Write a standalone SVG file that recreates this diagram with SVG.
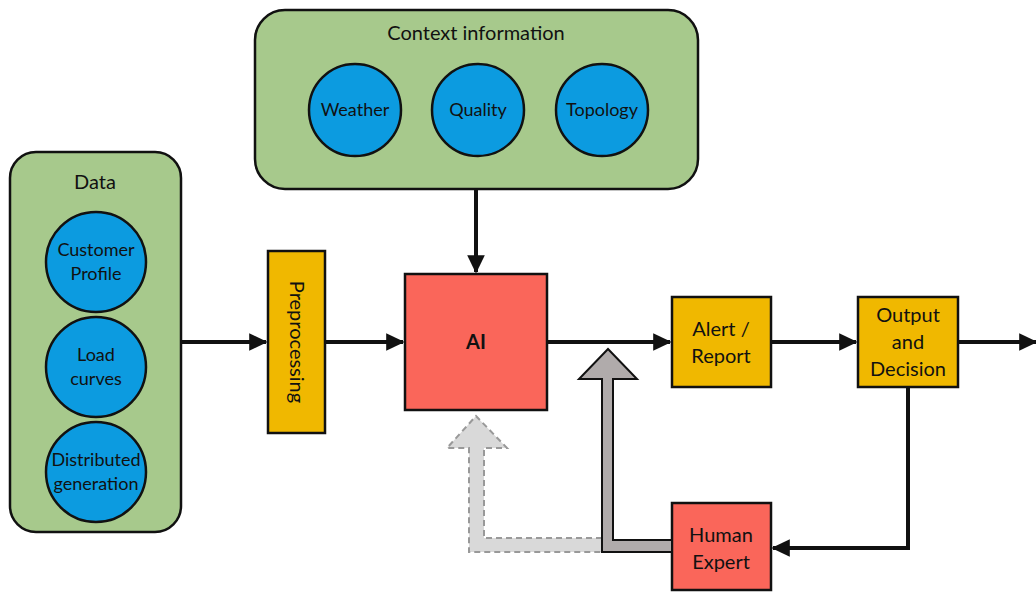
<svg xmlns="http://www.w3.org/2000/svg" width="1036" height="595" viewBox="0 0 1036 595">
<style>
.grp{fill:#a7c98c;stroke:#111;stroke-width:2.5}
.circ{fill:#0c9be0;stroke:#111;stroke-width:2.5}
.gold{fill:#f0b800;stroke:#111;stroke-width:2.5}
.red{fill:#fa665a;stroke:#111;stroke-width:2.5}
text{font-family:Lato,"Open Sans","Liberation Sans",sans-serif;font-size:20px;fill:#111;text-anchor:middle}
text.c{font-size:18px}
.ln{stroke:#111;stroke-width:4;fill:none}
</style>
<defs>
<marker id="ah" markerWidth="5" markerHeight="5" refX="4.2" refY="2.5" orient="auto" markerUnits="strokeWidth">
<path d="M0,0.3 L4.6,2.5 L0,4.7 Z" fill="#111"/>
</marker>
</defs>
<rect width="1036" height="595" fill="#fff"/>
<g id="data">
<rect class="grp" x="10" y="152" width="171" height="380" rx="26"/>
<text x="95" y="189">Data</text>
<circle class="circ" cx="96" cy="262" r="50"/>
<text class="c" x="96" y="256">Customer</text><text class="c" x="96" y="280">Profile</text>
<circle class="circ" cx="96" cy="367" r="50"/>
<text class="c" x="96" y="361">Load</text><text class="c" x="96" y="385">curves</text>
<circle class="circ" cx="96" cy="472" r="50"/>
<text class="c" x="96" y="466">Distributed</text><text class="c" x="96" y="490">generation</text>
</g>
<g id="context">
<rect class="grp" x="255" y="10" width="443" height="179" rx="30"/>
<text x="476" y="40">Context information</text>
<circle class="circ" cx="355" cy="110" r="46"/>
<text class="c" x="355" y="116">Weather</text>
<circle class="circ" cx="478" cy="110" r="46"/>
<text class="c" x="478" y="116">Quality</text>
<circle class="circ" cx="602" cy="110" r="46"/>
<text class="c" x="602" y="116">Topology</text>
</g>
<g id="preprocessing">
<rect class="gold" x="268" y="251" width="57" height="182"/>
<text transform="translate(290,342) rotate(90)" x="0" y="0">Preprocessing</text>
</g>
<g id="ai">
<rect class="red" x="405" y="274" width="142" height="136"/>
<text x="476" y="349" font-weight="bold">AI</text>
</g>
<g id="alert">
<rect class="gold" x="672" y="297" width="99" height="90"/>
<text x="721" y="336">Alert /</text><text x="721" y="363">Report</text>
</g>
<g id="output">
<rect class="gold" x="858" y="297" width="100" height="90"/>
<text x="908" y="322">Output</text><text x="908" y="349">and</text><text x="908" y="376">Decision</text>
</g>
<g id="human">
<rect class="red" x="672" y="503" width="99" height="87"/>
<text x="721" y="542">Human</text><text x="721" y="569">Expert</text>
</g>
<g id="connectors">
<line class="ln" x1="181" y1="342" x2="266" y2="342" marker-end="url(#ah)"/>
<line class="ln" x1="325" y1="342" x2="403" y2="342" marker-end="url(#ah)"/>
<line class="ln" x1="476" y1="189" x2="476" y2="272" marker-end="url(#ah)"/>
<line class="ln" x1="547" y1="342" x2="670" y2="342" marker-end="url(#ah)"/>
<line class="ln" x1="771" y1="342" x2="856" y2="342" marker-end="url(#ah)"/>
<line class="ln" x1="958" y1="342" x2="1036" y2="342" marker-end="url(#ah)"/>
<polyline class="ln" points="908,387 908,548 773,548" marker-end="url(#ah)"/>
<polygon points="602,538 484,538 484,448 507,448 476,416 447,448 469,448 469,552 602,552" fill="#d9d9d9" stroke="#999" stroke-width="2" stroke-dasharray="6,4"/>
<polygon points="672,540 613,540 613,379 637,379 608,349 579,379 602,379 602,552 672,552" fill="#b0abab" stroke="#111" stroke-width="2"/>
</g>
</svg>
